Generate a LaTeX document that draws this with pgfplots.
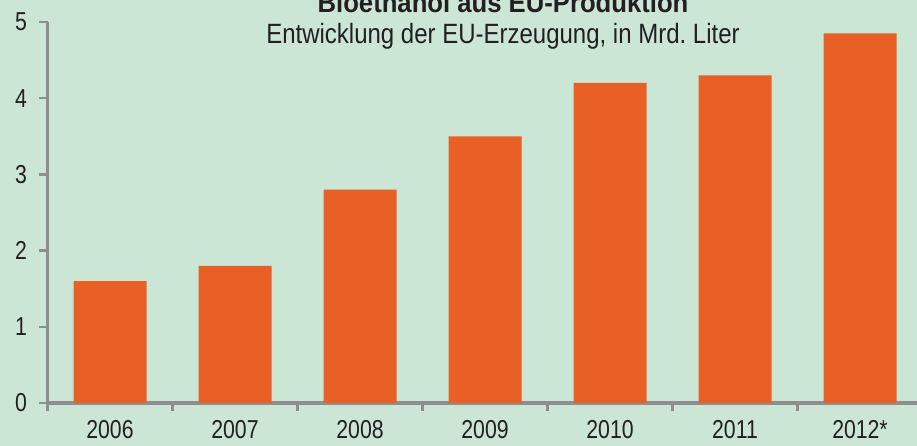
\documentclass[border=0pt]{standalone}
\usepackage{pgfplots}
\pgfplotsset{compat=1.18}
\usepackage{fontspec}
\setmainfont{Liberation Sans}[FakeStretch=0.82]
\newfontfamily\subfont{Liberation Sans}[FakeStretch=0.86]
\newfontfamily\titfont{Liberation Sans}[FakeStretch=0.92]
\definecolor{bg}{RGB}{204,230,213}
\definecolor{barc}{RGB}{232,96,38}
\definecolor{ax}{RGB}{142,142,142}
\definecolor{txt}{RGB}{35,31,32}
\begin{document}
\begin{tikzpicture}[x=1bp,y=1bp]
\fill[bg] (0,0) rectangle (917,446);
\useasboundingbox (0,0) rectangle (917,446);
\begin{axis}[
  at={(47.5bp,43bp)}, anchor=south west,
  scale only axis, width=875bp, height=381bp,
  xmin=-0.5, xmax=6.5, ymin=0, ymax=5,
  axis x line*=bottom, axis y line*=left,
  axis line style={ax, line width=3.2bp},
  ytick={0,...,5},
  xtick={0,...,6},
  xticklabels={2006,2007,2008,2009,2010,2011,2012*},
  major x tick style={draw=none},
  minor xtick={-0.5,0.5,...,6.5},
  tick style={ax, line width=2.5bp},
  tick align=outside,
  major tick length=8bp, minor tick length=8bp,
  tick label style={font=\fontsize{26}{30}\selectfont, color=txt},
  xticklabel style={yshift=-6bp},
  yticklabel style={xshift=-9bp},
  /pgf/number format/assume math mode=true,
  ybar, bar width=73bp,
]
\addplot[fill=barc, draw=none] coordinates {(0,1.6)(1,1.8)(2,2.8)(3,3.5)(4,4.2)(5,4.3)(6,4.85)};
\end{axis}
\node[anchor=base, font=\titfont\bfseries\fontsize{28}{32}\selectfont, text=txt] at (503,433) {Bioethanol aus EU-Produktion};
\node[anchor=base, font=\subfont\fontsize{28}{32}\selectfont, text=txt] at (503,402) {Entwicklung der EU-Erzeugung, in Mrd.\ Liter};
\end{tikzpicture}
\end{document}
